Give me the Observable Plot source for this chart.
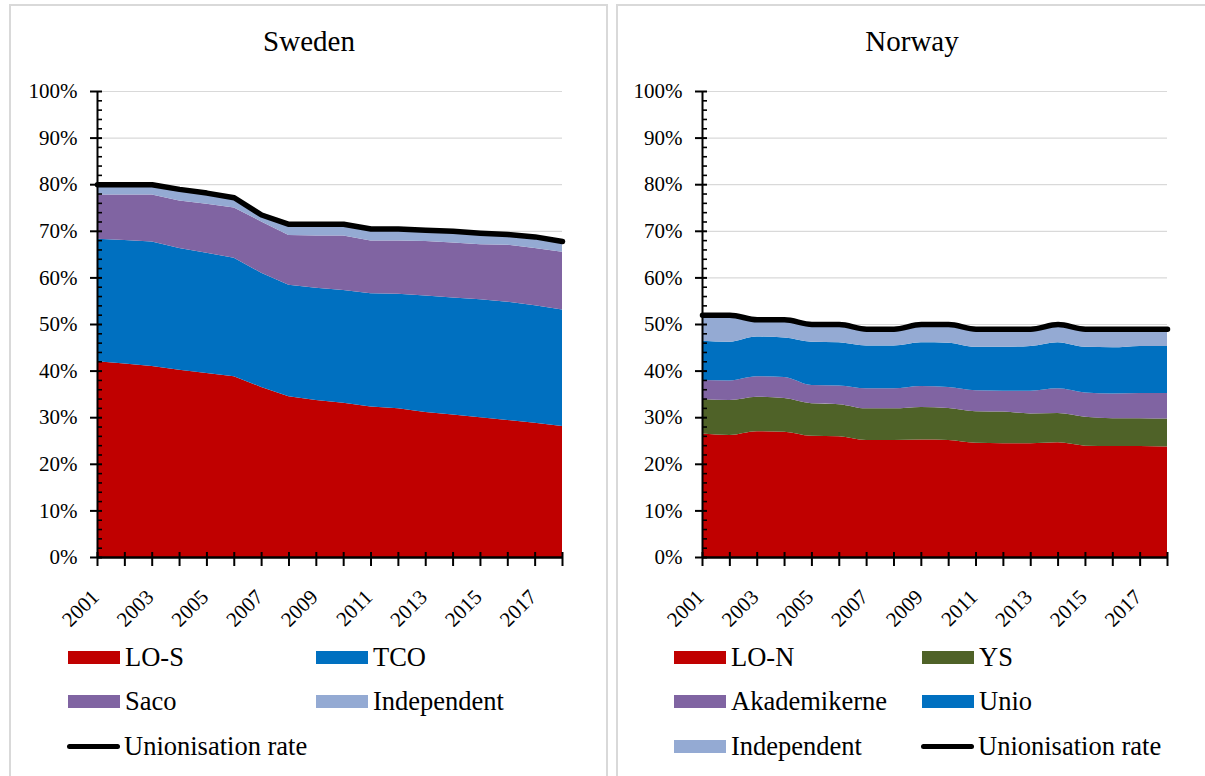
<!DOCTYPE html>
<html><head><meta charset="utf-8">
<script src="https://cdn.jsdelivr.net/npm/d3@7"></script>
<script src="https://cdn.jsdelivr.net/npm/@observablehq/plot@0.6"></script>
<style>
body{margin:0;background:#fff;width:1205px;height:776px;overflow:hidden;position:relative;font-family:"Liberation Serif","Times New Roman",serif;color:#000}
.panel{position:absolute;top:4px;height:800px;border:2px solid #d9d9d9;border-bottom:none;box-sizing:border-box}
.title{position:absolute;top:25px;font-size:29px;transform:translateX(-50%);white-space:nowrap}
.chart{position:absolute;top:70px}
.leg{position:absolute;display:flex;align-items:center;font-size:26.5px;height:30px;transform:translateY(-50%);white-space:nowrap}
.sw{width:52px;height:13px;margin-right:5px}
.ln{width:53px;height:5px;border-radius:3px;background:#000;margin-right:4px}
</style></head><body>
<div class="panel" style="left:9px;width:599px"></div>
<div class="panel" style="left:616px;width:600px"></div>
<div class="title" style="left:309px">Sweden</div>
<div class="title" style="left:912px">Norway</div>
<div id="se" class="chart" style="left:10px"></div>
<div id="no" class="chart" style="left:615px"></div>
<div id="legends"></div>
<script>
// ---- data ----
const years = [2001,2002,2003,2004,2005,2006,2007,2008,2009,2010,2011,2012,2013,2014,2015,2016,2017,2018];
const yearLabels = [2001,2003,2005,2007,2009,2011,2013,2015,2017];
const yTicks = [0,10,20,30,40,50,60,70,80,90,100];
const yMinorTicks = [2,4,6,8,12,14,16,18,22,24,26,28,32,34,36,38,42,44,46,48,52,54,56,58,62,64,66,68,72,74,76,78,82,84,86,88,92,94,96,98];

// Sweden (per cent of employees)
const seNames = ["LO-S","TCO","Saco","Independent"];
const seColors = ["#C00000","#0070C0","#8064A2","#94AAD3"];
const seLO  = [42.0,41.5,41.0,40.2,39.5,38.8,36.5,34.5,33.7,33.1,32.3,31.9,31.1,30.6,30.0,29.4,28.8,28.1];
const seTCO = [26.3,26.5,26.7,26.1,25.8,25.4,24.5,23.9,24.1,24.2,24.3,24.6,25.0,25.1,25.3,25.4,25.2,25.0];
const seSaco= [9.5,9.8,10.1,10.2,10.5,10.8,11.0,10.7,11.2,11.7,11.3,11.4,11.7,11.8,11.8,12.2,12.3,12.4];
const seInd = [2.2,2.2,2.2,2.5,2.4,2.2,1.5,2.4,2.5,2.5,2.6,2.6,2.4,2.5,2.5,2.3,2.5,2.3];
const seRate= [80.0,80.0,80.0,79.0,78.2,77.2,73.5,71.5,71.5,71.5,70.5,70.5,70.2,70.0,69.6,69.3,68.8,67.8];

// Norway
const noNames = ["LO-N","YS","Akademikerne","Unio","Independent"];
const noColors = ["#C00000","#4F6228","#8064A2","#0070C0","#94AAD3"];
const noLO   = [26.5,26.2,27.0,26.9,26.0,25.9,25.1,25.1,25.2,25.1,24.5,24.4,24.4,24.6,23.9,23.8,23.8,23.7];
const noYS   = [7.4,7.5,7.4,7.2,7.0,6.9,6.8,6.8,7.0,6.9,6.8,6.8,6.4,6.3,6.2,6.0,6.0,6.0];
const noAkad = [4.1,4.2,4.4,4.5,3.9,4.0,4.3,4.3,4.5,4.5,4.5,4.5,4.9,5.3,5.2,5.3,5.4,5.5];
const noUnio = [8.4,8.3,8.5,8.5,9.3,9.3,9.2,9.2,9.4,9.5,9.3,9.4,9.6,9.9,9.8,9.9,10.1,10.1];
const noInd  = [5.6,5.8,3.7,3.9,3.8,3.9,3.6,3.6,3.9,4.0,3.9,3.9,3.7,3.9,3.9,4.0,3.7,3.7];
const noRate = [52,52,51,51,50,50,49,49,50,50,49,49,49,50,49,49,49,49];

function makeChart(names, series, colors, rate, curve) {
  const data = [];
  names.forEach((n, i) => series[i].forEach((v, j) => data.push({year: years[j], series: n, value: v})));
  const rateData = rate.map((v, j) => ({year: years[j], value: v}));
  return Plot.plot({
    width: 590, height: 560,
    marginLeft: 87, marginRight: 38, marginTop: 21, marginBottom: 73,
    style: {fontFamily: "'Liberation Serif', 'Times New Roman', serif", fontSize: "21px", color: "#000", background: "transparent", overflow: "visible"},
    x: {domain: [years[0], years[years.length - 1]], label: null},
    y: {domain: [0, 100], label: null},
    color: {domain: names, range: colors},
    marks: [
      Plot.gridY(yTicks.slice(1), {stroke: "#d9d9d9", strokeOpacity: 1, strokeWidth: 1.2}),
      Plot.areaY(data, {x: "year", y: "value", fill: "series", order: names, curve}),
      Plot.lineY(rateData, {x: "year", y: "value", stroke: "#000", strokeWidth: 5.5, strokeLinecap: "round", strokeLinejoin: "round", curve}),
      Plot.ruleX([years[0]], {stroke: "#000", strokeWidth: 2}),
      Plot.ruleY([0], {stroke: "#000", strokeWidth: 2.5}),
      Plot.axisY(yTicks, {tickSize: 7, fill: "none", stroke: "#000", strokeWidth: 2, label: null}),
      Plot.axisY(yTicks, {tickSize: -5, fill: "none", stroke: "#000", strokeWidth: 2, label: null}),
      Plot.axisY(yMinorTicks, {tickSize: -5, fill: "none", stroke: "#000", strokeWidth: 1.6, label: null}),
      Plot.axisY(yTicks, {tickSize: 0, tickPadding: 20, tickFormat: d => d + "%", fill: "#000", label: null}),
      Plot.axisX(years, {tickSize: 9, fill: "none", stroke: "#000", strokeWidth: 2, label: null}),
      Plot.axisX(years, {tickSize: -5, fill: "none", stroke: "#000", strokeWidth: 2, label: null}),
      Plot.axisX(yearLabels, {tickSize: 0, tickPadding: 22, dy: 14, dx: -2, tickRotate: -45, tickFormat: d => String(d), fill: "#000", label: null})
    ]
  });
}

document.getElementById("se").appendChild(
  makeChart(seNames, [seLO, seTCO, seSaco, seInd], seColors, seRate, "linear"));
document.getElementById("no").appendChild(
  makeChart(noNames, [noLO, noYS, noAkad, noUnio, noInd], noColors, noRate, "monotone-x"));

// ---- legends ----
const legendItems = [
  // Sweden
  {x: 68, y: 657, name: seNames[0], color: seColors[0]},
  {x: 316, y: 657, name: seNames[1], color: seColors[1]},
  {x: 68, y: 701, name: seNames[2], color: seColors[2]},
  {x: 316, y: 701, name: seNames[3], color: seColors[3]},
  {x: 67, y: 746, name: "Unionisation rate", line: true},
  // Norway
  {x: 674, y: 657, name: noNames[0], color: noColors[0]},
  {x: 922, y: 657, name: noNames[1], color: noColors[1]},
  {x: 674, y: 701, name: noNames[2], color: noColors[2]},
  {x: 922, y: 701, name: noNames[3], color: noColors[3]},
  {x: 674, y: 746, name: noNames[4], color: noColors[4]},
  {x: 921, y: 746, name: "Unionisation rate", line: true}
];
const lg = document.getElementById("legends");
legendItems.forEach(it => {
  const d = document.createElement("div");
  d.className = "leg";
  d.style.left = it.x + "px";
  d.style.top = it.y + "px";
  const s = document.createElement("span");
  s.className = it.line ? "ln" : "sw";
  if (!it.line) s.style.background = it.color;
  const t = document.createElement("span");
  t.textContent = it.name;
  d.appendChild(s); d.appendChild(t);
  lg.appendChild(d);
});
</script>
</body></html>
